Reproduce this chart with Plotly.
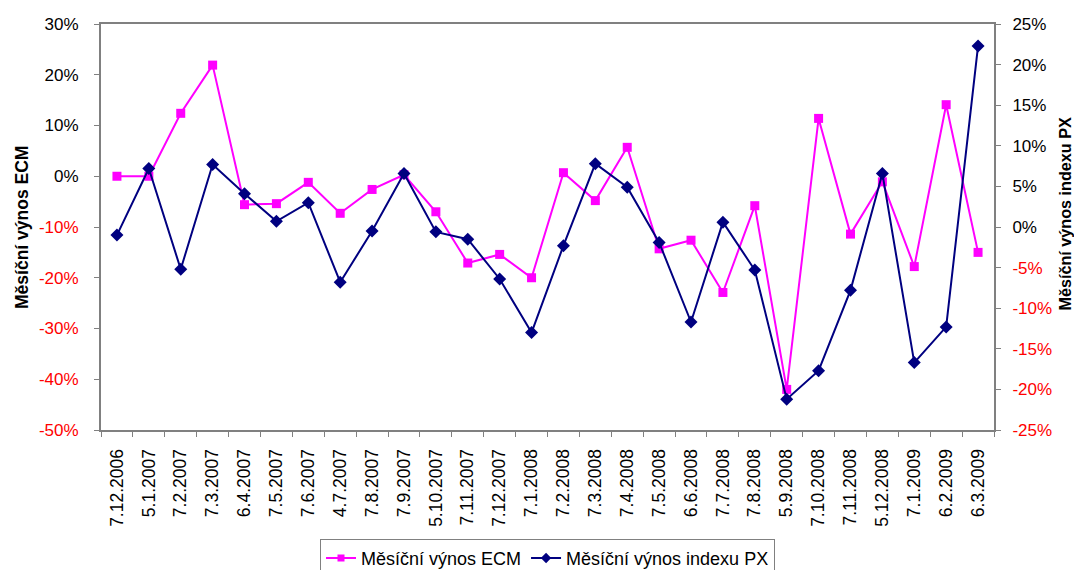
import plotly.graph_objects as go

dates = ["7.12.2006", "5.1.2007", "7.2.2007", "7.3.2007", "6.4.2007", "7.5.2007",
         "7.6.2007", "4.7.2007", "7.8.2007", "7.9.2007", "5.10.2007", "7.11.2007",
         "7.12.2007", "7.1.2008", "7.2.2008", "7.3.2008", "7.4.2008", "7.5.2008",
         "6.6.2008", "7.7.2008", "7.8.2008", "5.9.2008", "7.10.2008", "7.11.2008",
         "5.12.2008", "7.1.2009", "6.2.2009", "6.3.2009"]

ecm = [0.000, 0.000, 0.124, 0.219, -0.056, -0.054, -0.012, -0.073, -0.026, 0.003,
       -0.070, -0.171, -0.154, -0.200, 0.007, -0.048, 0.057, -0.143, -0.126, -0.229,
       -0.058, -0.420, 0.114, -0.114, -0.011, -0.178, 0.141, -0.150]

px_idx = [-0.010, 0.072, -0.052, 0.077, 0.041, 0.007, 0.030, -0.068, -0.005, 0.066,
          -0.006, -0.015, -0.064, -0.130, -0.023, 0.078, 0.049, -0.019, -0.117, 0.006,
          -0.053, -0.212, -0.177, -0.078, 0.066, -0.167, -0.123, 0.223]

left_ticks = [0.3, 0.2, 0.1, 0.0, -0.1, -0.2, -0.3, -0.4, -0.5]
right_ticks = [0.25, 0.2, 0.15, 0.1, 0.05, 0.0, -0.05, -0.1, -0.15, -0.2, -0.25]

ECM_NAME = "Měsíční výnos ECM"
PX_NAME = "Měsíční výnos indexu PX"
PINK = "#FF00FF"
NAVY = "#000080"


def lbl(v):
    s = f"{round(v * 100)}%"
    return f'<span style="fill:#FF0000">{s}</span>' if v < 0 else s


FONT = "Liberation Sans, Arial, sans-serif"

fig = go.Figure()
fig.add_trace(go.Scatter(
    x=dates, y=ecm, name=ECM_NAME, mode="lines+markers", showlegend=False,
    line=dict(color=PINK, width=2),
    marker=dict(symbol="square", size=9, color=PINK),
    yaxis="y"))
fig.add_trace(go.Scatter(
    x=dates, y=px_idx, name=PX_NAME, mode="lines+markers", showlegend=False,
    line=dict(color=NAVY, width=2),
    marker=dict(symbol="diamond", size=10, color=NAVY),
    yaxis="y2"))
# legend entries (smaller symbols as in the reference legend)
fig.add_trace(go.Scatter(
    x=[None], y=[None], name=ECM_NAME, mode="lines+markers",
    line=dict(color=PINK, width=2),
    marker=dict(symbol="square", size=7, color=PINK)))
fig.add_trace(go.Scatter(
    x=[None], y=[None], name=PX_NAME, mode="lines+markers",
    line=dict(color=NAVY, width=2),
    marker=dict(symbol="diamond", size=8, color=NAVY),
    yaxis="y2"))

fig.update_layout(
    width=1074, height=562,
    margin=dict(l=93, r=88, t=16, b=140, autoexpand=False),
    paper_bgcolor="white", plot_bgcolor="white",
    font=dict(family=FONT, size=17, color="black"),
    showlegend=True,
    legend=dict(orientation="h", x=0.5, xanchor="center", y=-0.268, yanchor="top",
                bordercolor="#808080", borderwidth=1, font=dict(size=18),
                itemwidth=30, tracegroupgap=0),
    xaxis=dict(type="category", tickangle=-90, tickson="boundaries",
               ticks="outside", ticklen=5, tickcolor="#808080",
               showline=True, linecolor="#808080", linewidth=2, mirror=True,
               showgrid=False, tickfont=dict(size=17.5), ticklabelstandoff=10,
               range=[-0.5, len(dates) - 0.5]),
    yaxis=dict(range=[-0.5, 0.3], tickvals=left_ticks,
               ticktext=[lbl(v) for v in left_ticks],
               ticks="outside", ticklen=5, tickcolor="#808080",
               showline=True, linecolor="#808080", linewidth=2,
               showgrid=False, zeroline=False, ticklabelstandoff=12),
    yaxis2=dict(range=[-0.25, 0.25], tickvals=right_ticks,
                ticktext=[lbl(v) for v in right_ticks],
                overlaying="y", side="right",
                ticks="outside", ticklen=5, tickcolor="#808080",
                showline=True, linecolor="#808080", linewidth=2,
                showgrid=False, zeroline=False, ticklabelstandoff=8),
    annotations=[
        dict(text="<b>" + ECM_NAME + "</b>", xref="paper", yref="paper",
             x=-0.0885, y=0.5, xanchor="center", yanchor="middle",
             textangle=-90, showarrow=False, font=dict(size=17.5)),
        dict(text="<b>" + PX_NAME + "</b>", xref="paper", yref="paper",
             x=1.0795, y=0.533, xanchor="center", yanchor="middle",
             textangle=-90, showarrow=False, font=dict(size=16.2)),
    ],
)

fig.write_html("out.html")
